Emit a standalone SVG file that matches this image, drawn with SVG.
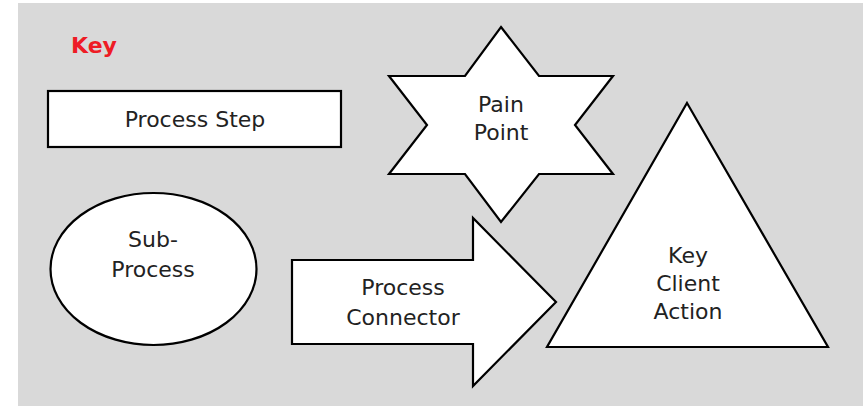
<svg xmlns="http://www.w3.org/2000/svg" width="868" height="406" viewBox="0 0 868 406">
<style>
.shape{fill:#fff;stroke:#000;stroke-width:2.2;stroke-linejoin:miter}
.lbl{font-family:"DejaVu Sans","Liberation Sans",sans-serif;font-size:22px;fill:#222;text-anchor:middle}
.key{font-family:"DejaVu Sans","Liberation Sans",sans-serif;font-size:22px;font-weight:bold;fill:#ee1c25}
</style>
<rect x="18" y="3" width="845" height="403" fill="#d9d9d9"/>
<text class="key" x="71" y="53">Key</text>
<g id="process-step">
<rect class="shape" x="48" y="91" width="293" height="56"/>
<text class="lbl" x="195" y="127">Process Step</text>
</g>
<g id="pain-point">
<polygon class="shape" points="501,27 539,76 613,76 575,125 613,174 539,174 501,222 465,174 389,174 427,125 389,76 465,76"/>
<text class="lbl" x="501" y="112">Pain</text>
<text class="lbl" x="501" y="140">Point</text>
</g>
<g id="sub-process">
<ellipse class="shape" cx="153.5" cy="269" rx="103" ry="76"/>
<text class="lbl" x="153" y="247">Sub-</text>
<text class="lbl" x="153" y="277">Process</text>
</g>
<g id="connectors">
<g id="process-connector">
<polygon class="shape" points="292,260 473,260 473,218 556,302 473,386 473,344 292,344"/>
<text class="lbl" x="403" y="295">Process</text>
<text class="lbl" x="403" y="325">Connector</text>
</g>
</g>
<g id="key-client-action">
<polygon class="shape" points="687,103 828,347 547,347"/>
<text class="lbl" x="688" y="263">Key</text>
<text class="lbl" x="688" y="291">Client</text>
<text class="lbl" x="688" y="319">Action</text>
</g>
</svg>
